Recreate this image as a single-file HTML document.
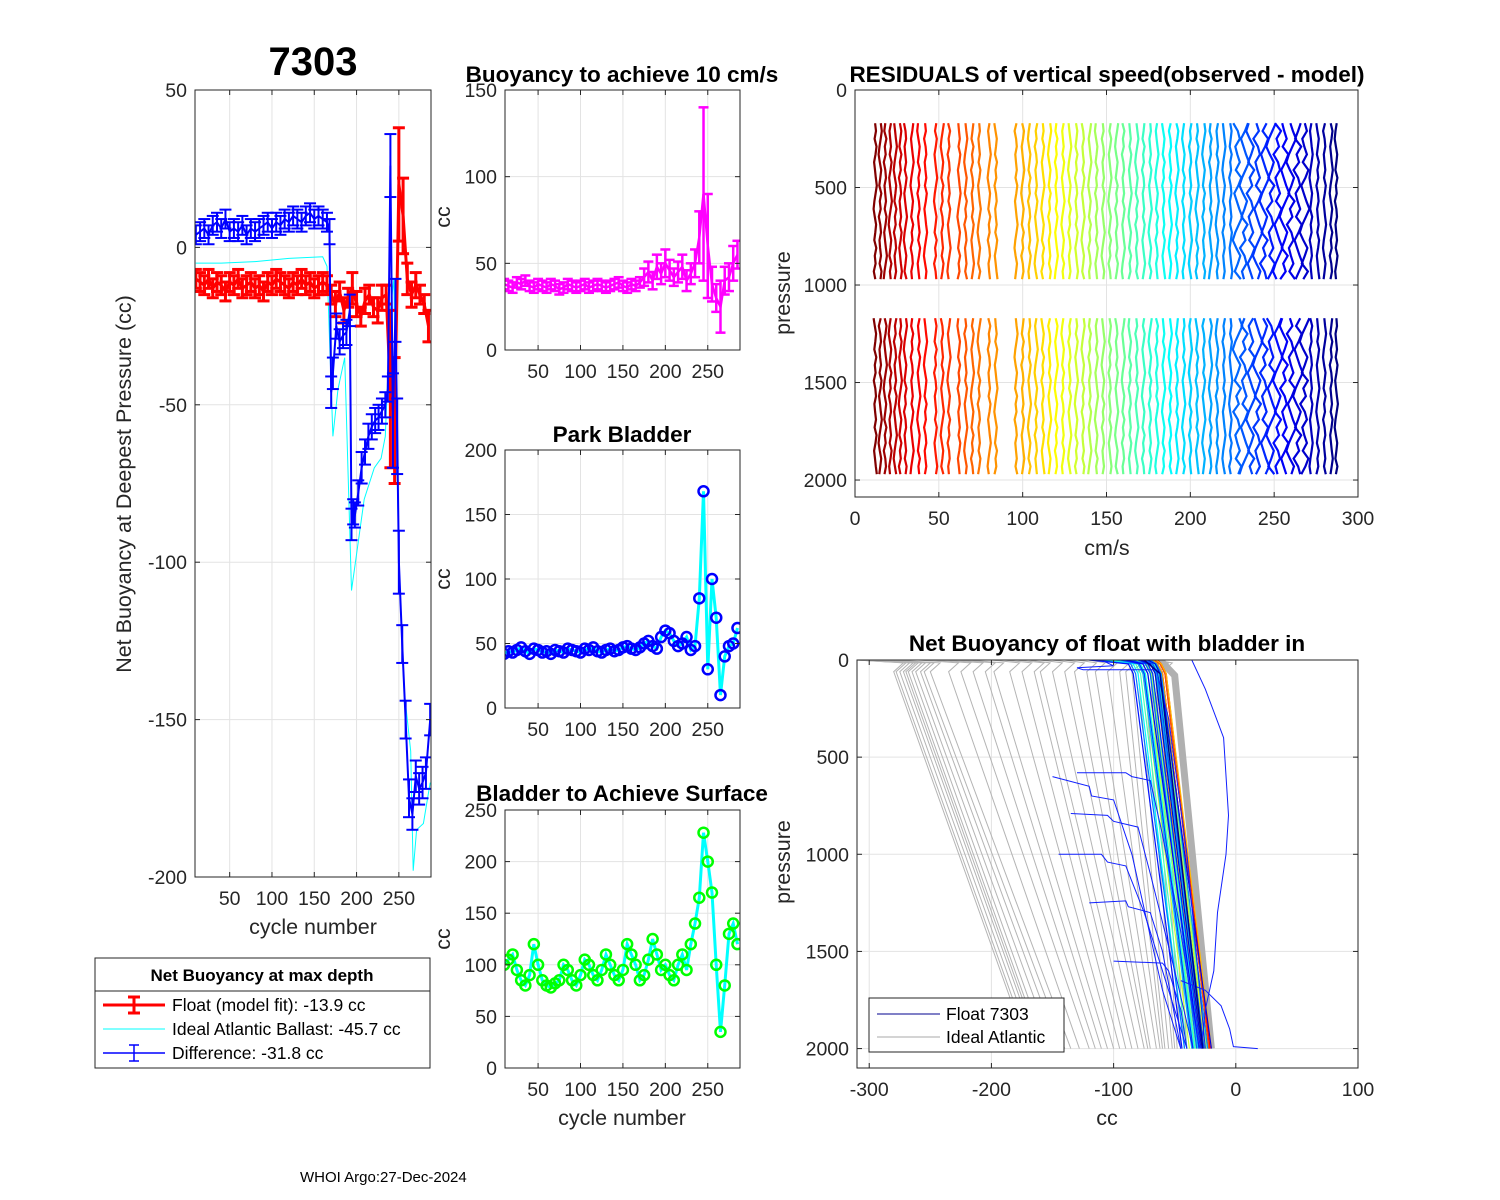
<!DOCTYPE html>
<html><head><meta charset="utf-8"><style>
html,body{margin:0;padding:0;background:#fff}
svg{display:block;font-family:"Liberation Sans",Arial,sans-serif}
</style></head><body>
<svg id="fig" width="1500" height="1200" viewBox="0 0 1500 1200" xmlns="http://www.w3.org/2000/svg">
<rect width="1500" height="1200" fill="#fff"/>
<defs>
<clipPath id="cA"><rect x="195" y="90" width="236" height="787"/></clipPath>
<clipPath id="cB"><rect x="505" y="90" width="235" height="260"/></clipPath>
<clipPath id="cC"><rect x="505" y="450" width="235" height="258"/></clipPath>
<clipPath id="cD"><rect x="505" y="810" width="235" height="258"/></clipPath>
<clipPath id="cE"><rect x="855" y="90" width="503" height="407"/></clipPath>
<clipPath id="cF"><rect x="857" y="660" width="501" height="408"/></clipPath>
</defs>
<text x="313" y="75" font-size="40" font-weight="bold" text-anchor="middle" fill="#000">7303</text>
<text x="622" y="82" font-size="22.5" font-weight="bold" text-anchor="middle">Buoyancy to achieve 10 cm/s</text>
<text x="1107" y="82" font-size="22.5" font-weight="bold" text-anchor="middle">RESIDUALS of vertical speed(observed - model)</text>
<text x="622" y="442" font-size="22.5" font-weight="bold" text-anchor="middle">Park Bladder</text>
<text x="622" y="801" font-size="22.5" font-weight="bold" text-anchor="middle">Bladder to Achieve Surface</text>
<text x="1107" y="651" font-size="22.5" font-weight="bold" text-anchor="middle">Net Buoyancy of float with bladder in</text>
<text transform="translate(131,484) rotate(-90)" font-size="21.5" text-anchor="middle" fill="#262626">Net Buoyancy at Deepest Pressure (cc)</text>
<text x="313" y="934" font-size="21.5" text-anchor="middle" fill="#262626">cycle number</text>
<text transform="translate(450,217) rotate(-90)" font-size="21.5" text-anchor="middle" fill="#262626">cc</text>
<text transform="translate(450,579) rotate(-90)" font-size="21.5" text-anchor="middle" fill="#262626">cc</text>
<text transform="translate(450,939) rotate(-90)" font-size="21.5" text-anchor="middle" fill="#262626">cc</text>
<text x="622" y="1125" font-size="21.5" text-anchor="middle" fill="#262626">cycle number</text>
<text transform="translate(790,293) rotate(-90)" font-size="21.5" text-anchor="middle" fill="#262626">pressure</text>
<text x="1107" y="555" font-size="21.5" text-anchor="middle" fill="#262626">cm/s</text>
<text transform="translate(790,862) rotate(-90)" font-size="21.5" text-anchor="middle" fill="#262626">pressure</text>
<text x="1107" y="1125" font-size="21.5" text-anchor="middle" fill="#262626">cc</text>
<text x="300" y="1182" font-size="15">WHOI Argo:27-Dec-2024</text>
<g id="layers"></g>
<g>
<rect x="95" y="958" width="335" height="110" fill="#fff" stroke="#262626" stroke-width="1"/>
<line x1="95" y1="991" x2="430" y2="991" stroke="#262626"/>
<text x="262" y="981" font-size="17" font-weight="bold" text-anchor="middle">Net Buoyancy at max depth</text>
<g><line x1="103" y1="1005" x2="165" y2="1005" stroke="red" stroke-width="3"/><line x1="134" y1="997" x2="134" y2="1013" stroke="red" stroke-width="3"/><line x1="128" y1="997" x2="140" y2="997" stroke="red" stroke-width="3"/><line x1="128" y1="1013" x2="140" y2="1013" stroke="red" stroke-width="3"/><text x="172" y="1011" font-size="17.5">Float (model fit): -13.9 cc</text></g>
<g><line x1="103" y1="1029" x2="165" y2="1029" stroke="cyan" stroke-width="1"/><text x="172" y="1035" font-size="17.5">Ideal Atlantic Ballast: -45.7 cc</text></g>
<g><line x1="103" y1="1053" x2="165" y2="1053" stroke="blue" stroke-width="1.5"/><line x1="134" y1="1045" x2="134" y2="1061" stroke="blue" stroke-width="1.5"/><line x1="129" y1="1045" x2="139" y2="1045" stroke="blue" stroke-width="1.5"/><line x1="129" y1="1061" x2="139" y2="1061" stroke="blue" stroke-width="1.5"/><text x="172" y="1059" font-size="17.5">Difference: -31.8 cc</text></g>
</g>
<g>
<rect x="869" y="998" width="195" height="54" fill="#fff" stroke="#262626"/>
<line x1="877" y1="1014" x2="940" y2="1014" stroke="#00008f" stroke-width="1"/><text x="946" y="1020" font-size="17.5">Float 7303</text>
<line x1="877" y1="1037" x2="940" y2="1037" stroke="#aaa" stroke-width="1"/><text x="946" y="1043" font-size="17.5">Ideal Atlantic</text>
</g>
</svg>
<script>
// ---- Panel A: net buoyancy at deepest pressure ----
const diffCycles=[10,15,20,25,30,35,40,45,50,55,60,65,70,75,80,85,90,95,100,105,110,115,120,125,130,135,140,145,150,155,160,165,168,170,172,176,180,184,188,192,194,196,198,202,206,210,214,218,222,226,230,234,237,240,243,246,248,250,254,258,262,266,270,274,278,282,287];
const diffValues=[4,5,6,4,7,8,6,9,5,6,5,7,4,6,5,6,7,8,6,8,7,9,8,10,9,8,10,11,9,10,9,8,5,-46,-40,-25,-30,-28,-27,-20,-88,-84,-85,-78,-70,-65,-60,-57,-55,-54,-52,-50,-45,26,-55,-20,-60,-100,-126,-150,-175,-180,-168,-172,-170,-167,-150];
const diffErrors=[3,3,3,3,3,3,3,3,3,3,3,3,3,3,3,3,3,3,3,3,3,3,3,3,3,3,3,3,3,3,3,3,4,5,5,4,4,4,4,5,5,4,4,4,5,4,4,4,4,4,4,4,4,10,15,10,12,10,6,6,6,5,5,5,5,5,5];
const floatCycles=[10,15,20,25,30,35,40,45,50,55,60,65,70,75,80,85,90,95,100,105,110,115,120,125,130,135,140,145,150,155,160,165,170,175,180,185,190,195,200,205,210,215,220,225,230,235,240,245,250,255,260,265,270,275,280,285];
const floatValues=[-10,-11,-12,-10,-13,-11,-12,-14,-11,-12,-10,-13,-12,-11,-13,-12,-14,-11,-12,-10,-11,-12,-13,-11,-12,-10,-12,-11,-13,-12,-11,-12,-15,-18,-14,-20,-16,-13,-18,-22,-17,-15,-19,-20,-16,-15,-45,-55,20,10,-10,-15,-12,-15,-18,-25];
const floatErrors=[3,3,3,3,3,3,3,3,3,3,3,3,3,3,3,3,3,3,3,3,3,3,3,3,3,3,3,3,3,3,3,3,3,4,3,4,3,5,4,3,4,3,3,4,4,3,25,20,18,12,5,4,4,3,3,5];
const idealCycles=[10,40,80,120,160,165,172,178,186,194,209,221,229,234,240,244,250,256,264,267,271,279,287];
const idealValues=[-5,-5,-4.5,-3.5,-3,-6,-60,-45,-35,-109,-80,-70,-67,-60,-20,-10,-102,-140,-160,-198,-185,-183,-170];
const cycleTicks=[50,100,150,200,250];
const aTicks=[50,0,-50,-100,-150,-200];
// ---- Panel B: buoyancy to achieve 10 cm/s ----
const buoyCycles=[10,15,20,25,30,35,40,45,50,55,60,65,70,75,80,85,90,95,100,105,110,115,120,125,130,135,140,145,150,155,160,165,170,175,180,185,190,195,200,205,210,215,220,225,230,235,240,245,250,255,260,265,270,275,280,285];
const buoyValues=[38,37,36,39,38,40,37,36,38,37,36,38,37,35,36,38,37,36,37,38,36,37,38,37,36,37,38,39,37,36,38,37,39,42,45,40,48,44,50,46,42,45,48,40,44,50,65,90,60,38,30,25,40,42,50,55];
const buoyErrors=[3,3,3,3,3,3,3,3,3,3,3,3,3,3,3,3,3,3,3,3,3,3,3,3,3,3,3,3,3,3,3,3,3,5,6,5,7,6,8,6,5,6,7,6,6,8,15,50,30,10,8,15,8,8,10,8];
const bTicks=[0,50,100,150];
// ---- Panel C: park bladder ----
const parkCycles=[10,15,20,25,30,35,40,45,50,55,60,65,70,75,80,85,90,95,100,105,110,115,120,125,130,135,140,145,150,155,160,165,170,175,180,185,190,195,200,205,210,215,220,225,230,235,240,245,250,255,260,265,270,275,280,285];
const parkValues=[42,44,43,45,47,44,42,46,45,43,44,42,45,44,43,46,45,44,43,46,45,47,44,43,45,46,44,45,47,48,46,45,47,50,52,48,46,55,60,58,52,48,50,55,45,48,85,168,30,100,70,10,40,48,50,62];
const cTicks=[0,50,100,150,200];
// ---- Panel D: bladder to achieve surface ----
const surfCycles=[10,15,20,25,30,35,40,45,50,55,60,65,70,75,80,85,90,95,100,105,110,115,120,125,130,135,140,145,150,155,160,165,170,175,180,185,190,195,200,205,210,215,220,225,230,235,240,245,250,255,260,265,270,275,280,285];
const surfValues=[100,105,110,95,85,80,90,120,100,85,80,78,82,85,100,95,85,80,90,105,100,90,85,95,110,100,90,85,95,120,110,100,85,90,105,125,110,95,100,90,85,100,110,95,120,140,165,228,200,170,100,35,80,130,140,120];
const dTicks=[0,50,100,150,200,250];
// ---- Panel E: residuals ----
const residCycles=[12,15,18,21,24,27,30,34,38,42,48,52,56,62,66,70,74,80,84,96,100,104,108,112,116,120,124,128,132,136,140,144,148,152,156,160,164,168,172,176,180,184,188,192,196,200,204,208,212,216,220,224,228,232,236,240,244,248,252,256,260,264,268,272,276,280,284,287];
const residWiggle=[0,0.5,-0.3,0.8,0.2,-0.6,-0.1,0.4,1.0,0.3,-0.4,-0.9,-0.2,0.6,0.1,-0.5,0.7,-0.2,0.3,-0.8,0.1,0.5,-0.4];
const eXTicks=[0,50,100,150,200,250,300];
const eYTicks=[0,500,1000,1500,2000];
// ---- Panel F: net buoyancy profiles ----
const idealTop=[-310,-310,-310,-305,-305,-300,-300,-295,-290,-285,-280,-260,-250,-240,-230,-220,-200,-190,-180,-170,-160,-150,-140,-130,-120,-110,-100,-95,-90,-85,-80,-75,-70,-68,-65];
const idealKnee=[-280,-278,-275,-272,-270,-268,-265,-262,-258,-255,-250,-235,-225,-215,-205,-198,-185,-175,-165,-160,-150,-140,-132,-122,-115,-105,-95,-90,-85,-80,-75,-70,-66,-63,-60];
const idealBottom=[-170,-168,-165,-162,-160,-158,-155,-150,-145,-140,-135,-128,-120,-115,-110,-105,-100,-95,-90,-85,-80,-75,-72,-70,-65,-62,-60,-58,-55,-52,-50,-48,-45,-42,-40];
const floatTop=[-70,-68,-72,-66,-75,-70,-64,-68,-72,-78,-66,-70,-74,-80,-68,-65,-72,-76,-84,-70,-90,-100,-75,-82,-95,-70,-88,-105,-78,-72,-92,-110,-80,-85,-98,-76,-70,-115,-86,-74,-94,-80,-120,-90,-72,-78];
const floatKnee=[-62,-60,-63,-58,-64,-61,-57,-60,-63,-66,-58,-61,-64,-68,-60,-57,-63,-66,-70,-62,-72,-76,-65,-69,-74,-62,-72,-78,-66,-63,-74,-80,-68,-70,-76,-65,-61,-82,-70,-64,-75,-68,-84,-72,-62,-66];
const floatBottom=[-25,-24,-27,-22,-28,-26,-21,-24,-26,-30,-22,-25,-28,-32,-24,-20,-26,-29,-34,-25,-36,-38,-27,-31,-35,-24,-33,-40,-28,-26,-34,-42,-30,-31,-36,-27,-23,-42,-32,-26,-35,-29,-44,-30,-20,-28];
const stepProfiles=[
 [[-36,0],[-25,150],[-10,400],[-6,800],[-8,1000],[-15,1300],[-18,1600],[-25,1800],[-28,2000]],
 [[-45,1650],[-25,1700],[-12,1780],[-5,1900],[-2,1990],[18,2000]],
 [[-110,0],[-100,30],[-130,40],[-125,50],[-65,50],[-55,300],[-40,1000],[-25,2000]],
 [[-130,580],[-90,580],[-85,600],[-70,620],[-60,900],[-45,1400],[-30,2000]],
 [[-135,790],[-105,800],[-100,830],[-80,860],[-70,1100],[-50,1600],[-35,2000]],
 [[-145,1000],[-110,1000],[-105,1040],[-90,1060],[-75,1300],[-55,1700],[-40,2000]],
 [[-120,1250],[-90,1240],[-88,1270],[-70,1300],[-60,1500],[-45,2000]],
 [[-150,600],[-120,650],[-118,700],[-100,720],[-85,1000],[-60,1700],[-45,2000]],
 [[-100,1550],[-60,1560],[-55,1600],[-45,1800],[-40,2000]]
];
const fXTicks=[-300,-200,-100,0,100];
const fYTicks=[0,500,1000,1500,2000];

const NS='http://www.w3.org/2000/svg';
const root=document.getElementById('layers');
function mk(tag,attrs,parent){const e=document.createElementNS(NS,tag);for(const k in attrs)e.setAttribute(k,attrs[k]);(parent||root).appendChild(e);return e;}
function jet(t){const r=Math.min(Math.max(1.5-Math.abs(4*t-3),0),1),g=Math.min(Math.max(1.5-Math.abs(4*t-2),0),1),b=Math.min(Math.max(1.5-Math.abs(4*t-1),0),1);return `rgb(${Math.round(r*255)},${Math.round(g*255)},${Math.round(b*255)})`;}
function axes(name,x0,y0,w,h,xmin,xmax,ymin,ymax,xt,yt,rev,clip){
 const g=mk('g',{});
 
 
 const sx=v=>x0+(v-xmin)/(xmax-xmin)*w;
 const sy=v=>rev?y0+(v-ymin)/(ymax-ymin)*h:y0+h-(v-ymin)/(ymax-ymin)*h;
 mk('rect',{x:x0,y:y0,width:w,height:h,fill:'#fff'},g);
 const grid=mk('g',{stroke:'#e3e3e3','stroke-width':1},g);
 xt.forEach(v=>{const X=sx(v);mk('line',{x1:X,y1:y0,x2:X,y2:y0+h},grid);});
 yt.forEach(v=>{const Y=sy(v);mk('line',{x1:x0,y1:Y,x2:x0+w,y2:Y},grid);});
 const data=mk('g',{'clip-path':`url(#${clip})`},g);
 const fr=mk('g',{stroke:'#262626','stroke-width':1,fill:'none'});
 
 
 mk('rect',{x:x0,y:y0,width:w,height:h},fr);
 const lab=mk('g',{'font-size':19.5,fill:'#262626'});
 xt.forEach(v=>{const X=sx(v);mk('line',{x1:X,y1:y0+h,x2:X,y2:y0+h-5},fr);mk('line',{x1:X,y1:y0,x2:X,y2:y0+5},fr);
  const t=mk('text',{x:X,y:y0+h+28,'text-anchor':'middle'},lab);t.textContent=v;
  
  });
 yt.forEach(v=>{const Y=sy(v);mk('line',{x1:x0,y1:Y,x2:x0+5,y2:Y},fr);mk('line',{x1:x0+w,y1:Y,x2:x0+w-5,y2:Y},fr);
  const t=mk('text',{x:x0-8,y:Y+7,'text-anchor':'end'},lab);t.textContent=v;
  
  });
 return {sx,sy,data};
}
function poly(g,pts,attrs,name){const p=mk('polyline',Object.assign({points:pts.map(q=>q[0].toFixed(1)+','+q[1].toFixed(1)).join(' '),fill:'none'},attrs),g);
 
 return p;}
function errbars(ax,xs,ys,es,color,lw,cap,name){
 const n=Math.min(xs.length,ys.length,es.length);const g=mk('g',{stroke:color,'stroke-width':lw},ax.data);
 
 
 const pts=[];
 for(let i=0;i<n;i++){const X=ax.sx(xs[i]),Y1=ax.sy(ys[i]-es[i]),Y2=ax.sy(ys[i]+es[i]);pts.push([X,ax.sy(ys[i])]);
  mk('line',{x1:X,y1:Y1,x2:X,y2:Y2},g);mk('line',{x1:X-cap,y1:Y1,x2:X+cap,y2:Y1},g);mk('line',{x1:X-cap,y1:Y2,x2:X+cap,y2:Y2},g);}
 poly(g,pts,{stroke:color,'stroke-width':lw},name+'-line');
}
// Panel A
const A=axes('net-buoyancy-axes',195,90,236,787,9,288,-200,50,cycleTicks,aTicks,false,'cA');
poly(A.data,idealCycles.map((c,i)=>[A.sx(c),A.sy(idealValues[i])]),{stroke:'cyan','stroke-width':1},'ideal-ballast-line');
errbars(A,floatCycles,floatValues,floatErrors,'red',3,6,'float-model-fit');
errbars(A,diffCycles,diffValues,diffErrors,'blue',2,6,'difference');
// Panel B
const B=axes('buoyancy-axes',505,90,235,260,11,288,0,150,cycleTicks,bTicks,false,'cB');
errbars(B,buoyCycles,buoyValues,buoyErrors,'magenta',2.5,5,'buoyancy-needed');
// Panel C
const C=axes('park-bladder-axes',505,450,235,258,11,288,0,200,cycleTicks,cTicks,false,'cC');
poly(C.data,parkCycles.map((c,i)=>[C.sx(c),C.sy(parkValues[i])]),{stroke:'cyan','stroke-width':3},'park-line');
parkCycles.forEach((c,i)=>{const e=mk('circle',{cx:C.sx(c),cy:C.sy(parkValues[i]),r:5,fill:'none',stroke:'blue','stroke-width':2.5},C.data);
 
 });
// Panel D
const D=axes('surface-bladder-axes',505,810,235,258,11,288,0,250,cycleTicks,dTicks,false,'cD');
poly(D.data,surfCycles.map((c,i)=>[D.sx(c),D.sy(surfValues[i])]),{stroke:'cyan','stroke-width':3},'surface-line');
surfCycles.forEach((c,i)=>{const e=mk('circle',{cx:D.sx(c),cy:D.sy(surfValues[i]),r:5,fill:'none',stroke:'#00ff00','stroke-width':2.5},D.data);
 
 });
// Panel E
const E=axes('residuals-axes',855,90,503,407,0,300,0,2087,eXTicks,eYTicks,true,'cE');
residCycles.forEach((c,i)=>{const col=jet(1-i/(residCycles.length-1));const amp=c>225&&c<270?3.0:1.0;
 [[170,1000],[1170,2000]].forEach((seg,s)=>{const pts=[];let k=0;
  for(let p=seg[0];p<=seg[1];p+=40,k++){pts.push([E.sx(c+amp*residWiggle[(i*7+k+s*11)%residWiggle.length]),E.sy(p)]);}
  poly(E.data,pts,{stroke:col,'stroke-width':2.2},'residual-profile');});});
// Panel F
const F=axes('profile-axes',857,660,501,408,-310,100,0,2100,fXTicks,fYTicks,true,'cF');
idealTop.forEach((t,i)=>{poly(F.data,[[F.sx(t),F.sy(0)],[F.sx(idealKnee[i]+8),F.sy(15)],[F.sx(idealKnee[i]),F.sy(60)],[F.sx(idealBottom[i]),F.sy(2000)]],{stroke:'#b4b4b4','stroke-width':1},'ideal-profile');});
poly(F.data,[[F.sx(-62),F.sy(0)],[F.sx(-50),F.sy(80)],[F.sx(-20),F.sy(2000)]],{stroke:'#b0b0b0','stroke-width':7},'ideal-band');
floatTop.forEach((t,i)=>{const col=jet(1-i/(floatTop.length-1)*0.92);
 poly(F.data,[[F.sx(t),F.sy(0)],[F.sx(floatKnee[i]-4),F.sy(20)],[F.sx(floatKnee[i]),F.sy(70)],[F.sx(floatBottom[i]),F.sy(2000)]],{stroke:col,'stroke-width':1.2},'float-profile');});
stepProfiles.forEach(pr=>{poly(F.data,pr.map(q=>[F.sx(q[0]),F.sy(q[1])]),{stroke:'#1020ff','stroke-width':1},'float-step-profile');});
poly(F.data,[[F.sx(-75),F.sy(0)],[F.sx(-62),F.sy(70)],[F.sx(-27),F.sy(2000)]],{stroke:'#00008f','stroke-width':1.5},'float-7303-profile');
</script>
</body></html>
